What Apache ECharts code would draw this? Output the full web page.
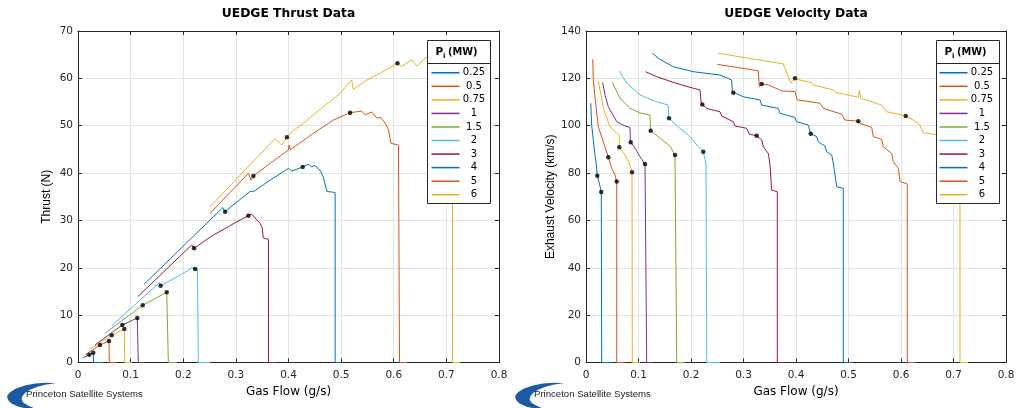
<!DOCTYPE html>
<html><head><meta charset="utf-8">
<script src="https://cdn.jsdelivr.net/npm/echarts@6/dist/echarts.min.js"></script>
<style>html,body{margin:0;padding:0;background:#fff}#c{width:1020px;height:408px}</style>
</head><body><div id="c"></div>
<script>
// ---- categories / ticks ----
const seriesNames = ['0.25','0.5','0.75','1','1.5','2','3','4','5','6'];
const seriesColors = ['#0072BD','#D95319','#EDB120','#7E2F8E','#77AC30','#4DBEEE','#A2142F','#0072BD','#D95319','#EDB120'];
const flowTicks = [0,0.1,0.2,0.3,0.4,0.5,0.6,0.7,0.8];
const thrustTicks = [0,10,20,30,40,50,60,70];
const velocityTicks = [0,20,40,60,80,100,120,140];

// ---- thrust (N) vs gas flow (g/s) ----
const thrust_0_25 = [[0.009,1.0],[0.0215,1.65],[0.029,2.07],[0.0297,2.1],[0.0297,0],[0.047,0]];
const thrust_0_5  = [[0.0133,1.58],[0.0418,3.70],[0.0589,4.54],[0.0595,4.6],[0.0595,0],[0.0736,0]];
const thrust_0_75 = [[0.0228,2.85],[0.064,5.74],[0.088,7.07],[0.0888,7.1],[0.0888,0],[0.102,0]];
const thrust_1    = [[0.0323,3.70],[0.0842,7.92],[0.1127,9.40],[0.1146,9.5],[0.1146,0],[0.124,0]];
const thrust_1_5  = [[0.0513,6.17],[0.123,12.08],[0.145,13.4],[0.1686,14.82],[0.1717,15.0],[0.1717,0],[0.1876,0]];
const thrust_2    = [[0.064,7.77],[0.1546,16.85],[0.157,16.2],[0.185,17.9],[0.2097,19.5],[0.216,20.0],[0.2224,19.74],[0.227,19.9],[0.2287,19.8],[0.2287,0],[0.251,0]];
const thrust_3    = [[0.1135,13.9],[0.216,24.8],[0.2205,24.1],[0.2447,26.0],[0.257,26.9],[0.2858,28.7],[0.308,30.1],[0.3238,31.0],[0.330,31.35],[0.3397,30.1],[0.346,29.4],[0.350,28.5],[0.352,26.3],[0.362,26.0],[0.362,0],[0.376,0]];
const thrust_4    = [[0.1255,16.5],[0.275,32.7],[0.2795,31.84],[0.2985,33.6],[0.327,36.1],[0.335,36.2],[0.365,38.5],[0.400,41.0],[0.406,40.4],[0.427,41.3],[0.438,41.9],[0.444,41.3],[0.450,41.6],[0.460,40.6],[0.466,39.2],[0.473,36.1],[0.482,36.0],[0.4886,35.9],[0.4886,0],[0.4994,0]];
const thrust_5    = [[0.251,31.5],[0.3238,39.95],[0.329,38.5],[0.3333,39.4],[0.365,42.06],[0.400,44.9],[0.4011,45.9],[0.403,44.9],[0.4474,48.4],[0.4854,51.2],[0.517,52.75],[0.539,53.1],[0.5456,52.3],[0.558,52.9],[0.568,51.6],[0.575,51.8],[0.5837,50.5],[0.590,49.2],[0.5945,46.3],[0.609,45.9],[0.611,45.9],[0.611,0],[0.625,0]];
const thrust_6    = [[0.251,32.9],[0.3745,47.3],[0.387,45.9],[0.397,47.55],[0.406,48.7],[0.428,50.5],[0.466,54.0],[0.498,56.8],[0.520,59.65],[0.523,57.7],[0.549,59.65],[0.574,61.1],[0.607,63.2],[0.615,62.5],[0.634,63.9],[0.644,62.6],[0.66,64.3],[0.69,65.0],[0.705,63.5],[0.7116,63.2],[0.7116,0],[0.726,0]];

// ---- exhaust velocity (km/s) vs gas flow (g/s) ----
const vel_0_25 = [[0.009,109.5],[0.0108,100.3],[0.0139,94.0],[0.0171,87.6],[0.0195,84.0],[0.0215,78.9],[0.0254,75.7],[0.0291,72.0],[0.0299,71.5],[0.0299,0],[0.049,0]];
const vel_0_5  = [[0.0128,128.0],[0.0139,119.3],[0.0171,112.2],[0.0234,99.6],[0.0299,95.2],[0.0362,91.1],[0.0425,86.7],[0.049,82.0],[0.0552,79.2],[0.0585,76.4],[0.0585,0],[0.0743,0]];
const vel_0_75 = [[0.0234,119.0],[0.0286,113.0],[0.033,107.3],[0.0457,99.6],[0.0585,96.9],[0.0634,96.1],[0.0634,90.9],[0.0743,87.6],[0.0838,83.4],[0.0876,80.3],[0.0882,80.0],[0.0882,0],[0.1029,0]];
const vel_1    = [[0.0318,118.3],[0.0362,113.0],[0.0425,108.0],[0.0585,101.7],[0.0743,99.9],[0.0838,99.3],[0.0845,94.0],[0.0851,93.0],[0.0933,90.6],[0.1029,86.9],[0.1124,83.8],[0.1156,83.0],[0.1156,0],[0.125,0]];
const vel_1_5  = [[0.0501,118.2],[0.0648,111.6],[0.0838,107.3],[0.1029,105.4],[0.1219,104.5],[0.1228,99.0],[0.1232,97.9],[0.141,94.7],[0.160,91.4],[0.1695,87.6],[0.1728,87.0],[0.1728,0],[0.1886,0]];
const vel_2    = [[0.0634,123.1],[0.0775,117.9],[0.1029,113.0],[0.1347,110.1],[0.1568,108.7],[0.1575,104.0],[0.1581,103.1],[0.179,98.9],[0.198,95.4],[0.2139,91.1],[0.2234,89.0],[0.2286,84.1],[0.230,83.5],[0.230,0],[0.2552,0]];
const vel_3    = [[0.1137,122.8],[0.1347,120.7],[0.1663,118.3],[0.1981,116.2],[0.2171,115.1],[0.2195,109.5],[0.2215,109.0],[0.23,107.3],[0.2552,105.9],[0.2585,104.1],[0.2806,101.7],[0.2838,99.9],[0.3061,98.9],[0.3111,96.4],[0.3251,95.8],[0.3347,94.0],[0.3377,91.1],[0.3473,88.3],[0.3505,83.4],[0.3537,72.8],[0.3644,72.1],[0.3644,0],[0.379,0]];
const vel_4    = [[0.1263,130.6],[0.141,128.0],[0.1663,124.9],[0.2044,122.8],[0.2552,121.4],[0.2775,119.3],[0.2787,114.4],[0.2806,113.9],[0.2996,112.2],[0.3314,110.9],[0.3347,108.7],[0.3663,107.3],[0.3695,105.2],[0.3981,103.5],[0.4013,101.7],[0.4234,100.3],[0.4267,97.5],[0.428,96.6],[0.4394,95.4],[0.4425,93.2],[0.4552,91.4],[0.4585,89.0],[0.468,87.6],[0.4711,84.1],[0.4743,83.4],[0.4775,74.2],[0.4901,73.6],[0.4901,0],[0.5067,0]];
const vel_5    = [[0.2501,125.9],[0.3282,123.2],[0.3301,116.5],[0.3347,117.6],[0.3473,117.2],[0.3663,115.4],[0.3727,114.7],[0.3981,114.4],[0.4013,115.1],[0.4025,110.9],[0.4457,109.5],[0.452,107.3],[0.487,104.9],[0.4933,102.4],[0.5187,101.9],[0.522,101.0],[0.5442,99.3],[0.5472,95.4],[0.5632,94.3],[0.5663,91.1],[0.5823,88.3],[0.5853,84.8],[0.5949,82.0],[0.5981,76.4],[0.612,75.4],[0.612,0],[0.6267,0]];
const vel_6    = [[0.252,130.6],[0.3758,126.1],[0.3899,118.2],[0.3981,120.0],[0.4076,119.3],[0.4299,118.2],[0.433,117.2],[0.471,115.1],[0.4743,114.1],[0.5187,112.0],[0.5206,114.8],[0.5232,111.6],[0.5632,108.7],[0.5727,105.9],[0.609,104.1],[0.6235,102.4],[0.636,100.3],[0.6425,97.0],[0.6615,96.4],[0.69,95.0],[0.70,91.0],[0.7124,90.0],[0.7124,0],[0.7276,0]];

// ---- black operating-point markers ----
const thrustMarks = [[0.0215,1.65],[0.029,2.07],[0.0418,3.70],[0.0589,4.54],[0.064,5.74],[0.088,7.07],[0.0842,7.92],[0.1127,9.40],[0.123,12.08],[0.1686,14.82],[0.157,16.2],[0.2224,19.74],[0.2205,24.1],[0.3238,31.0],[0.2795,31.84],[0.427,41.3],[0.3333,39.4],[0.517,52.75],[0.397,47.55],[0.607,63.2]];
const velMarks = [[0.0215,78.9],[0.0291,72.0],[0.0425,86.7],[0.0585,76.4],[0.0634,90.9],[0.0876,80.3],[0.0851,93.0],[0.1124,83.8],[0.1232,97.9],[0.1695,87.6],[0.1581,103.1],[0.2234,89.0],[0.2215,109.0],[0.3251,95.8],[0.2806,113.9],[0.428,96.6],[0.3347,117.6],[0.5187,101.9],[0.3981,120.0],[0.609,104.1]];

const thrustSets = [thrust_0_25,thrust_0_5,thrust_0_75,thrust_1,thrust_1_5,thrust_2,thrust_3,thrust_4,thrust_5,thrust_6];
const velSets = [vel_0_25,vel_0_5,vel_0_75,vel_1,vel_1_5,vel_2,vel_3,vel_4,vel_5,vel_6];

const F = '"Liberation Sans", Arial, Helvetica, sans-serif';
const W = '"DejaVu Sans", Verdana, sans-serif';
const AX = '#262626';

function xAx(g, pos, main){
  return {type:'value', gridIndex:g, position:pos, min:flowTicks[0], max:flowTicks[flowTicks.length-1], interval:flowTicks[1]-flowTicks[0],
    axisLine:{show:true, onZero:false, lineStyle:{color:AX,width:1}},
    axisTick:{show:true, inside:true, length:4, lineStyle:{color:AX}},
    axisLabel:{show:main, color:AX, fontSize:10.5, margin:7.5, fontFamily:W},
    splitLine:{show:main, lineStyle:{color:'#e4e4e4',width:1}},
    name: main ? 'Gas Flow (g/s)' : '', nameLocation:'middle', nameGap:23,
    nameTextStyle:{color:'#000', fontSize:12, fontFamily:W}};
}
function yAx(g, pos, main, ticks, nm){
  return {type:'value', gridIndex:g, position:pos, min:ticks[0], max:ticks[ticks.length-1], interval:ticks[1]-ticks[0],
    axisLine:{show:true, onZero:false, lineStyle:{color:AX,width:1}},
    axisTick:{show:true, inside:true, length:4, lineStyle:{color:AX}},
    axisLabel:{show:main, color:AX, fontSize:10.5, margin:5, fontFamily:W},
    splitLine:{show:main, lineStyle:{color:'#e4e4e4',width:1}},
    name: main ? nm : '', nameLocation:'middle', nameGap: nm.length>12 ? 28 : 25,
    nameTextStyle:{color:'#000', fontSize:12, fontFamily:F}};
}

const series = [];
seriesNames.forEach((n,i)=>{
  series.push({type:'line', name:n, xAxisIndex:0, yAxisIndex:0, data:thrustSets[i], showSymbol:false, symbol:'none',
    lineStyle:{width:1, color:seriesColors[i]}, itemStyle:{color:seriesColors[i]}, z:2});
});
seriesNames.forEach((n,i)=>{
  series.push({type:'line', name:n, xAxisIndex:1, yAxisIndex:1, data:velSets[i], showSymbol:false, symbol:'none',
    lineStyle:{width:1, color:seriesColors[i]}, itemStyle:{color:seriesColors[i]}, z:2});
});
series.push({type:'scatter', name:'marks', xAxisIndex:0, yAxisIndex:0, data:thrustMarks, symbolSize:4.5, itemStyle:{color:'#000'}, z:3});
series.push({type:'scatter', name:'marks', xAxisIndex:1, yAxisIndex:1, data:velMarks, symbolSize:4.5, itemStyle:{color:'#000'}, z:3});

function legendCfg(left){
  return {left:left, top:66, orient:'vertical', data:seriesNames, icon:'rect', itemWidth:28, itemHeight:1.5, itemGap:0,
    selectedMode:false, padding:0, z:6,
    formatter: n => '{c|'+n+'}',
    textStyle:{fontSize:10, lineHeight:13.55, fontFamily:W, color:'#000',
      rich:{c:{width:19, align:'center', fontSize:10, lineHeight:13.55, height:13.55, color:'#000', fontFamily:W}}}};
}

function boxEls(x0){
  return [
    {type:'rect', shape:{x:x0+0.5, y:40.5, width:63, height:163}, style:{fill:'#fff', stroke:AX, lineWidth:1}, z:4},
    {type:'line', shape:{x1:x0+0.5, y1:63.5, x2:x0+63.5, y2:63.5}, style:{stroke:AX, lineWidth:1}, z:5},
    {type:'text', x:x0+8.5, y:52.3, style:{text:'P', fill:'#000', font:'bold 10.5px '+W, verticalAlign:'middle'}, z:5},
    {type:'text', x:x0+16, y:56, style:{text:'i', fill:'#000', font:'bold 7px '+W, verticalAlign:'middle'}, z:5},
    {type:'text', x:x0+21, y:52.3, style:{text:'(MW)', fill:'#000', font:'bold 9.8px '+W, verticalAlign:'middle'}, z:5}
  ];
}
const swoosh = [[56,383.2],[46,382.8],[35,383.6],[25,385.6],[16,388.6],[10,392.2],[7,396],[8,400],[11.5,403.5],[18,406.5],[26,408.5],[35,408.5],[28.5,405.8],[23.5,402.8],[21.5,399.5],[22.5,396],[25.5,392.5],[30.5,389.5],[37.5,386.8],[46,384.6]];
function logoEls(dx){
  return [
    {type:'polygon', shape:{points:swoosh.map(p=>[p[0]+dx,p[1]])}, style:{fill:'#1c5aa3'}, z:5},
    {type:'text', x:26+dx, y:394, style:{text:'Princeton Satellite Systems', fill:'#222', font:'9.6px '+F, verticalAlign:'middle'}, z:5}
  ];
}

const option = {
  animation:false,
  backgroundColor:'#fff',
  grid:[{left:78, top:31, width:421, height:331.5}, {left:586, top:31, width:420, height:331.5}],
  xAxis:[xAx(0,'bottom',true), xAx(1,'bottom',true), xAx(0,'top',false), xAx(1,'top',false)],
  yAxis:[yAx(0,'left',true,thrustTicks,'Thrust (N)'), yAx(1,'left',true,velocityTicks,'Exhaust Velocity (km/s)'),
         yAx(0,'right',false,thrustTicks,''), yAx(1,'right',false,velocityTicks,'')],
  legend:[legendCfg(431.5), legendCfg(939.5)],
  series:series,
  graphic:{elements:[
    {type:'text', x:288.5, y:14, style:{text:'UEDGE Thrust Data', fill:'#000', font:'bold 12.3px '+W, align:'center', verticalAlign:'middle'}, z:5},
    {type:'text', x:796, y:14, style:{text:'UEDGE Velocity Data', fill:'#000', font:'bold 12.3px '+W, align:'center', verticalAlign:'middle'}, z:5},
    ...boxEls(427), ...boxEls(936), ...logoEls(0), ...logoEls(508)
  ]}
};
const chart = echarts.init(document.getElementById('c'), null, {renderer:'canvas'});
chart.setOption(option);
</script></body></html>
